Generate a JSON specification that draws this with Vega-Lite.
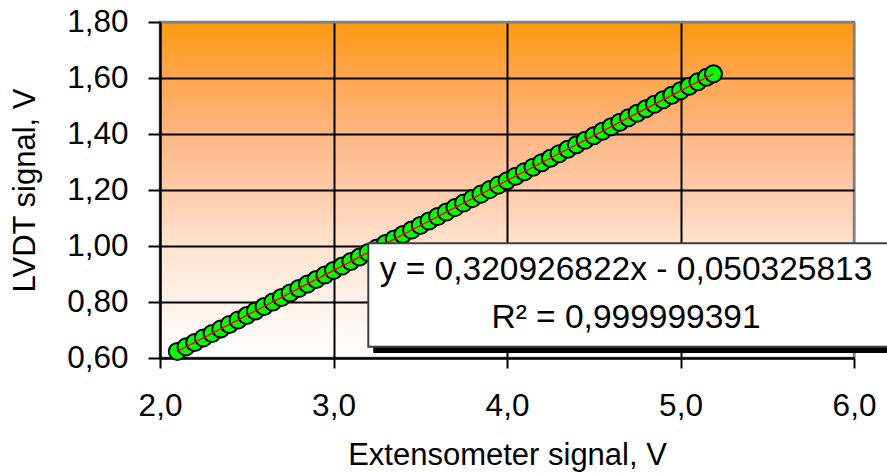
{
  "$schema": "https://vega.github.io/schema/vega-lite/v6.json",
  "width": 694,
  "height": 336,
  "autosize": "none",
  "padding": {"left": 160, "top": 22, "right": 33, "bottom": 116},
  "background": "white",
  "view": {
    "fill": {
      "gradient": "linear",
      "x1": 0, "y1": 0, "x2": 0, "y2": 1,
      "stops": [
        {"offset": 0, "color": "#FF9A12"},
        {"offset": 0.17, "color": "#FFA650"},
        {"offset": 0.33, "color": "#FFB683"},
        {"offset": 0.5, "color": "#FFCBA8"},
        {"offset": 0.66, "color": "#FFE2CE"},
        {"offset": 0.83, "color": "#FFF1E8"},
        {"offset": 1, "color": "#FFFFFF"}
      ]
    },
    "stroke": "#808080",
    "strokeWidth": 2.5
  },
  "config": {
    "font": "Liberation Sans",
    "axis": {
      "labelFont": "Liberation Sans",
      "titleFont": "Liberation Sans",
      "labelFontSize": 31.5,
      "titleFontSize": 31,
      "titleFontWeight": "normal",
      "labelColor": "black",
      "titleColor": "black",
      "domainColor": "black",
      "domainWidth": 2,
      "tickColor": "black",
      "tickWidth": 2,
      "gridWidth": 2,
      "gridOpacity": 1,
      "labelFlush": false,
      "labelOverlap": false
    }
  },
  "datasets": {
    "points": [
      {"x": 2.10, "y": 0.6236}, {"x": 2.15, "y": 0.6397}, {"x": 2.20, "y": 0.6557}, {"x": 2.25, "y": 0.6718},
      {"x": 2.30, "y": 0.6878}, {"x": 2.35, "y": 0.7039}, {"x": 2.40, "y": 0.7199}, {"x": 2.45, "y": 0.7360},
      {"x": 2.50, "y": 0.7520}, {"x": 2.55, "y": 0.7681}, {"x": 2.60, "y": 0.7841}, {"x": 2.65, "y": 0.8002},
      {"x": 2.70, "y": 0.8162}, {"x": 2.75, "y": 0.8323}, {"x": 2.80, "y": 0.8483}, {"x": 2.85, "y": 0.8644},
      {"x": 2.90, "y": 0.8804}, {"x": 2.95, "y": 0.8965}, {"x": 3.00, "y": 0.9125}, {"x": 3.05, "y": 0.9285},
      {"x": 3.10, "y": 0.9446}, {"x": 3.15, "y": 0.9606}, {"x": 3.20, "y": 0.9767}, {"x": 3.25, "y": 0.9927},
      {"x": 3.30, "y": 1.0088}, {"x": 3.35, "y": 1.0248}, {"x": 3.40, "y": 1.0409}, {"x": 3.45, "y": 1.0569},
      {"x": 3.50, "y": 1.0730}, {"x": 3.55, "y": 1.0890}, {"x": 3.60, "y": 1.1050}, {"x": 3.65, "y": 1.1211},
      {"x": 3.70, "y": 1.1371}, {"x": 3.75, "y": 1.1532}, {"x": 3.80, "y": 1.1692}, {"x": 3.85, "y": 1.1853},
      {"x": 3.90, "y": 1.2013}, {"x": 3.95, "y": 1.2174}, {"x": 4.00, "y": 1.2334}, {"x": 4.05, "y": 1.2494},
      {"x": 4.10, "y": 1.2655}, {"x": 4.15, "y": 1.2815}, {"x": 4.20, "y": 1.2976}, {"x": 4.25, "y": 1.3136},
      {"x": 4.30, "y": 1.3297}, {"x": 4.35, "y": 1.3457}, {"x": 4.40, "y": 1.3618}, {"x": 4.45, "y": 1.3778},
      {"x": 4.50, "y": 1.3939}, {"x": 4.55, "y": 1.4099}, {"x": 4.60, "y": 1.4260}, {"x": 4.65, "y": 1.4420},
      {"x": 4.70, "y": 1.4580}, {"x": 4.75, "y": 1.4741}, {"x": 4.80, "y": 1.4901}, {"x": 4.85, "y": 1.5062},
      {"x": 4.90, "y": 1.5222}, {"x": 4.95, "y": 1.5383}, {"x": 5.00, "y": 1.5543}, {"x": 5.05, "y": 1.5704},
      {"x": 5.10, "y": 1.5864}, {"x": 5.15, "y": 1.6025}, {"x": 5.19, "y": 1.6153}
    ],
    "shadow": [{"x": 3.229, "x2": 6.6, "y": 0.618, "y2": 0.993}],
    "box": [{"x": 3.2006, "x2": 6.6, "y": 0.6404, "y2": 1.0096}],
    "labels": [
      {"x": 4.686, "y": 0.914, "t": "y = 0,320926822x - 0,050325813"},
      {"x": 4.686, "y": 0.743, "t": "R² = 0,999999391"}
    ]
  },
  "layer": [
    {
      "data": {"name": "points"},
      "mark": {"type": "circle", "fill": "#00FF00", "stroke": "black", "strokeWidth": 2, "size": 290, "opacity": 1},
      "encoding": {
        "x": {
          "field": "x", "type": "quantitative",
          "scale": {"domain": [2, 6], "nice": false, "zero": false},
          "axis": {
            "title": "Extensometer signal, V",
            "values": [2, 3, 4, 5, 6],
            "labelExpr": "replace(format(datum.value, '.1f'), '.', ',')",
            "tickSize": 10,
            "labelPadding": 22,
            "titlePadding": 19,
            "gridColor": {"condition": {"test": "datum.value >= 5.99", "value": "#808080"}, "value": "black"}
          }
        },
        "y": {
          "field": "y", "type": "quantitative",
          "scale": {"domain": [0.6, 1.8], "nice": false, "zero": false},
          "axis": {
            "title": "LVDT signal, V",
            "values": [0.6, 0.8, 1.0, 1.2, 1.4, 1.6, 1.8],
            "labelExpr": "replace(format(datum.value, '.2f'), '.', ',')",
            "tickSize": 12,
            "labelPadding": 20,
            "titlePadding": 25,
            "gridColor": {"condition": {"test": "datum.value >= 1.79", "value": "#808080"}, "value": "black"}
          }
        }
      }
    },
    {
      "data": {"name": "points"},
      "mark": {"type": "line", "color": "#FF0000", "strokeWidth": 1.5},
      "encoding": {
        "x": {"field": "x", "type": "quantitative"},
        "y": {"field": "y", "type": "quantitative"}
      }
    },
    {
      "data": {"name": "shadow"},
      "mark": {"type": "rect", "fill": "black"},
      "encoding": {
        "x": {"field": "x", "type": "quantitative"},
        "x2": {"field": "x2"},
        "y": {"field": "y", "type": "quantitative"},
        "y2": {"field": "y2"}
      }
    },
    {
      "data": {"name": "box"},
      "mark": {"type": "rect", "fill": "white", "stroke": "#404040", "strokeWidth": 2},
      "encoding": {
        "x": {"field": "x", "type": "quantitative"},
        "x2": {"field": "x2"},
        "y": {"field": "y", "type": "quantitative"},
        "y2": {"field": "y2"}
      }
    },
    {
      "data": {"name": "labels"},
      "mark": {"type": "text", "font": "Liberation Sans", "fontSize": 33.5, "color": "black", "align": "center", "baseline": "middle"},
      "encoding": {
        "x": {"field": "x", "type": "quantitative"},
        "y": {"field": "y", "type": "quantitative"},
        "text": {"field": "t"}
      }
    }
  ]
}
